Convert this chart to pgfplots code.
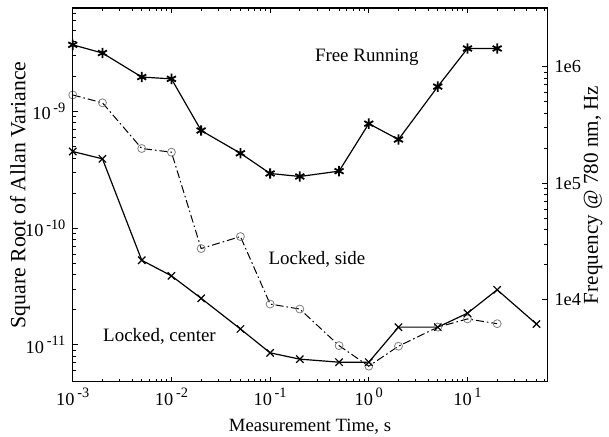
\documentclass[border=0pt]{standalone}
\usepackage{pgfplots}
\pgfplotsset{compat=1.18}
\usepackage{fontspec}
\setmainfont{Liberation Serif}
\newcommand{\tp}[1]{10\kern0.15em\raisebox{0.85ex}{\fontsize{7.2}{8}\selectfont #1}}
\begin{document}
\begin{tikzpicture}
\pgfplotsset{
  every axis/.append style={font=\fontsize{9.5}{11}\selectfont, line width=0.7pt},
  major tick length=2.6pt, minor tick length=1.5pt,
  every tick/.style={black, line width=0.5pt},
}
\begin{axis}[name=ax, scale only axis, width=238pt, height=187.5pt,
  xmode=log, ymode=log,
  xmin=1e-3, xmax=64.3, ymin=4.83e-12, ymax=7.74e-9,
  xtick={1e-3,1e-2,1e-1,1,10},
  xticklabels={\tp{-3},\tp{-2},\tp{-1},\tp{0},\tp{1}},
  minor xtick={2e-3,3e-3,4e-3,5e-3,6e-3,7e-3,8e-3,9e-3,2e-2,3e-2,4e-2,5e-2,6e-2,7e-2,8e-2,9e-2,0.2,0.3,0.4,0.5,0.6,0.7,0.8,0.9,2,3,4,5,6,7,8,9,20,30,40,50,60},
  ytick={1e-11,1e-10,1e-9},
  yticklabels={\tp{-11},\tp{-10},\tp{-9}},
  minor ytick={6e-12,7e-12,8e-12,9e-12,2e-11,3e-11,4e-11,5e-11,6e-11,7e-11,8e-11,9e-11,2e-10,3e-10,4e-10,5e-10,6e-10,7e-10,8e-10,9e-10,2e-9,3e-9,4e-9,5e-9,6e-9,7e-9},
  tick align=inside, xtick pos=both, ytick pos=left,
  ticklabel style={font=\fontsize{9.2}{11}\selectfont},
  xticklabel style={yshift=-2pt, inner sep=1pt},
  xlabel={Measurement Time, s}, ylabel={Square Root of Allan Variance},
  xlabel style={font=\fontsize{9.4}{11}\selectfont, inner sep=1pt, at={(axis description cs:0.5,-0.119)}, anchor=center},
  ylabel style={font=\fontsize{10.9}{12}\selectfont, at={(axis description cs:-0.1113,0.5)}, anchor=center},
  clip=false,
]
% Free running
\addplot[black, line width=0.6pt, mark=asterisk, mark size=2.6pt, mark options={line width=0.9pt}] coordinates {
(1e-3,3.74e-9) (2e-3,3.18e-9) (5e-3,1.98e-9) (1e-2,1.91e-9) (2e-2,6.89e-10) (5e-2,4.40e-10)
(0.1,2.95e-10) (0.2,2.78e-10) (0.5,3.09e-10) (1,7.89e-10) (2,5.77e-10) (5,1.64e-9) (10,3.48e-9) (20,3.48e-9)};
% Locked, side
\addplot[black, line width=0.5pt, dash pattern=on 4pt off 1.5pt on 0.8pt off 1.5pt, mark=o, mark size=2pt, mark options={solid, gray, line width=0.4pt}] coordinates {
(1e-3,1.39e-9) (2e-3,1.19e-9) (5e-3,4.83e-10) (1e-2,4.49e-10) (2e-2,6.70e-11) (5e-2,8.49e-11)
(0.1,2.24e-11) (0.2,2.03e-11) (0.5,9.86e-12) (1,6.57e-12) (2,9.75e-12) (5,1.42e-11) (10,1.67e-11) (20,1.52e-11)};
% Locked, center
\addplot[black, line width=0.6pt, mark=x, mark size=2.6pt, mark options={line width=0.6pt}] coordinates {
(1e-3,4.55e-10) (2e-3,3.94e-10) (5e-3,5.32e-11) (1e-2,3.91e-11) (2e-2,2.51e-11) (5e-2,1.37e-11)
(0.1,8.55e-12) (0.2,7.55e-12) (0.5,7.11e-12) (1,7.11e-12) (2,1.42e-11) (5,1.42e-11) (10,1.87e-11) (20,2.97e-11) (50,1.51e-11)};
\node at (axis cs:0.955,2.95e-9) {Free Running};
\node at (axis cs:0.2985,5.43e-11) {Locked, side};
\node at (axis cs:7.57e-3,1.19e-11) {Locked, center};
\end{axis}
\begin{axis}[scale only axis, width=238pt, height=187.5pt,
  xmode=log, ymode=log,
  xmin=1e-3, xmax=64.3, ymin=1990, ymax=3.19e6,
  hide x axis,
  ytick={1e4,1e5,1e6}, yticklabels={1e4,1e5,1e6},
  tick align=inside, ytick pos=right, yticklabel pos=right,
  ticklabel style={font=\fontsize{9.2}{11}\selectfont},
  ylabel={Frequency @ 780 nm, Hz},
  ylabel style={font=\fontsize{10.6}{12}\selectfont, at={(axis description cs:1.0966,0.5)}, anchor=center},
]
\end{axis}
\path (ax.south west) ++(-36.5pt,-27.5pt) rectangle ([shift={(30pt,4pt)}]ax.north east);
\end{tikzpicture}
\end{document}
